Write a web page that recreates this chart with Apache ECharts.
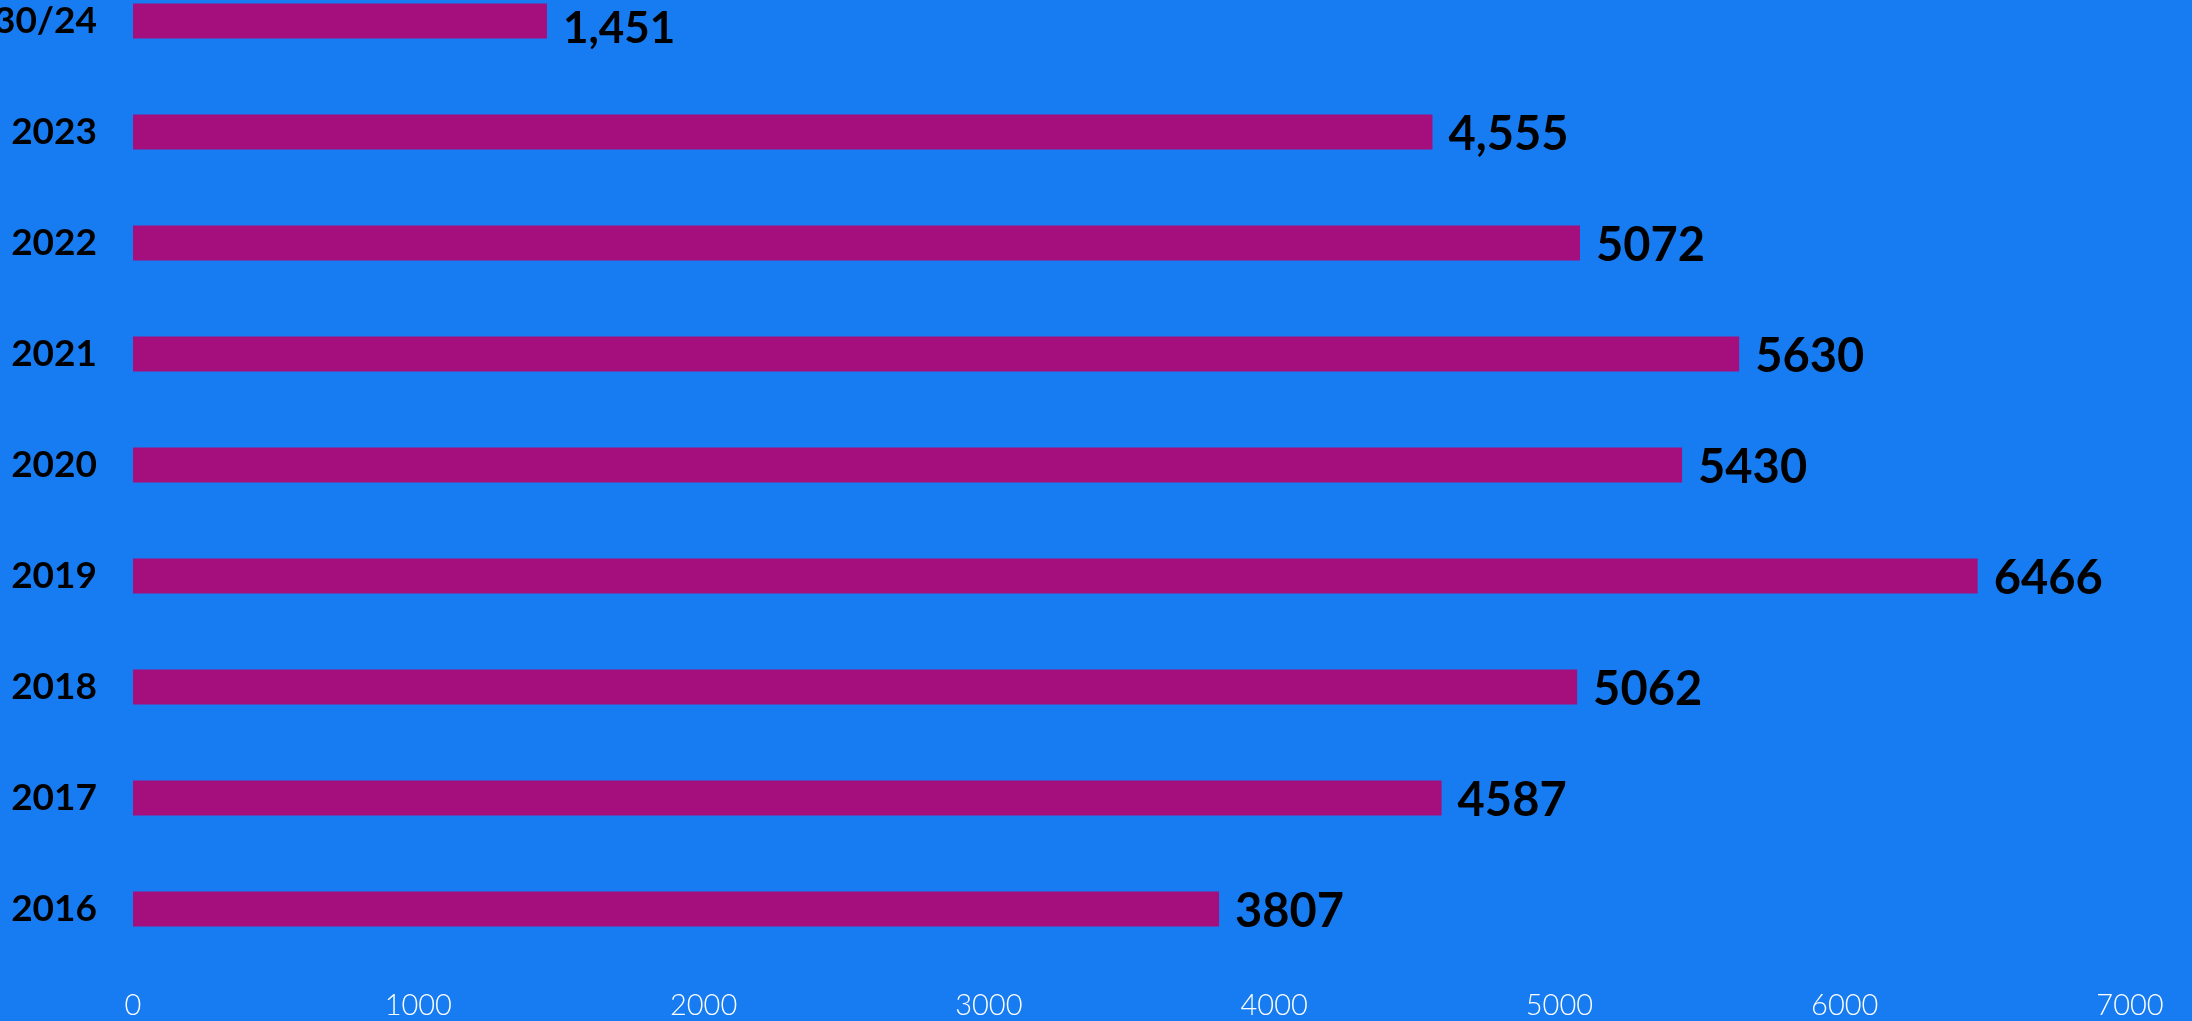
<!DOCTYPE html>
<html>
<head>
<meta charset="utf-8">
<script src="https://cdn.jsdelivr.net/npm/echarts@6/dist/echarts.min.js"></script>
<style>
  html, body { margin: 0; padding: 0; background: #177cf2; }
  #chart { width: 2192px; height: 1021px; }
</style>
</head>
<body>
<div id="chart"></div>
<script>
  // categories bottom -> top
  var years = ['2016', '2017', '2018', '2019', '2020', '2021', '2022', '2023', '01/30/24'];
  var counts = [3807, 4587, 5062, 6466, 5430, 5630, 5072, 4555, 1451];
  var countLabels = ['3807', '4587', '5062', '6466', '5430', '5630', '5072', '4,555', '1,451'];
  var xTicks = [0, 1000, 2000, 3000, 4000, 5000, 6000, 7000];

  var chart = echarts.init(document.getElementById('chart'));

  chart.setOption({
    backgroundColor: '#177cf2',
    animation: false,
    grid: {
      left: 133, right: 62, top: 21, bottom: 112,
      containLabel: false,
      outerBoundsMode: 'none'
    },
    xAxis: {
      type: 'value',
      min: xTicks[0],
      max: xTicks[xTicks.length - 1],
      interval: 1000,
      axisLine: { show: false },
      axisTick: { show: false },
      splitLine: { show: false },
      axisLabel: {
        color: '#ffffff',
        fontFamily: 'Lato',
        fontWeight: 300,
        fontSize: 29,
        margin: 82,
        formatter: function (v) { return String(v); }
      }
    },
    yAxis: {
      type: 'category',
      data: years,
      boundaryGap: false,
      axisLine: { show: false },
      axisTick: { show: false },
      splitLine: { show: false },
      axisLabel: {
        color: '#000000',
        fontFamily: 'Lato',
        fontWeight: 'bold',
        fontSize: 37,
        margin: 36
      }
    },
    series: [{
      type: 'bar',
      data: counts.map(function (v, i) {
        if (i === counts.length - 1) {
          // top value is set tighter in the original
          return { value: v, label: { fontSize: 44, offset: [0, 8] } };
        }
        return v;
      }),
      barWidth: 35,
      clip: false,
      itemStyle: { color: '#a50f7d' },
      label: {
        show: true,
        position: 'right',
        distance: 16,
        offset: [0, 3],
        color: '#000000',
        fontFamily: 'Lato',
        fontWeight: 'bold',
        fontSize: 47,
        formatter: function (p) { return countLabels[p.dataIndex]; }
      }
    }]
  });
</script>
</body>
</html>
